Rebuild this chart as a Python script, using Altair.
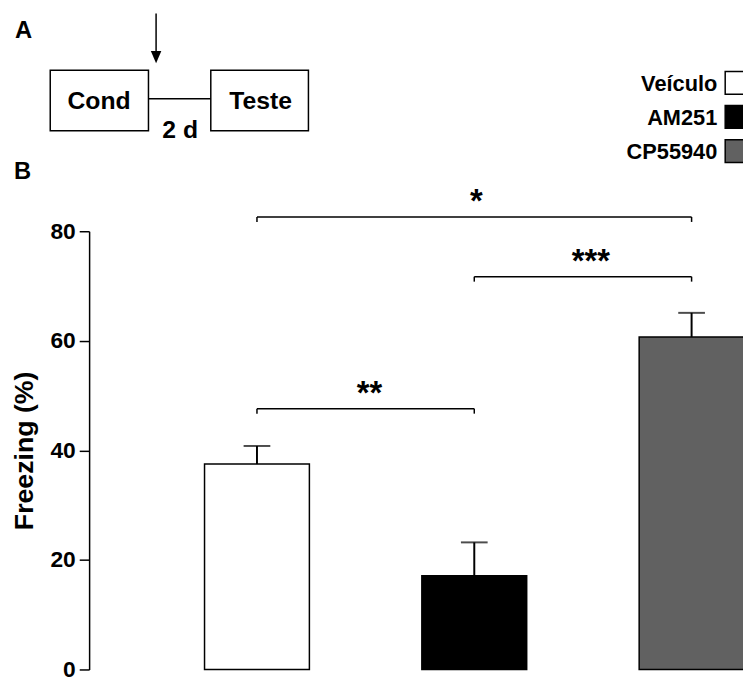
import altair as alt
import pandas as pd

FONT = "Liberation Sans"

# ---- data ----
groups = ["Veículo", "AM251", "CP55940"]
slots = [1, 2, 3]
means = [37.5, 17.1, 60.7]
sems = [3.3, 6.1, 4.4]
fills = ["#ffffff", "#000000", "#616161"]

tick_values = [0, 20, 40, 60, 80]

bracket_from = [1, 2, 1]
bracket_to = [3, 3, 2]
bracket_level = [82.6, 71.7, 47.6]
bracket_label = ["*", "***", "**"]
bracket_drop = 0.9

bars = pd.DataFrame({"group": groups, "slot": slots, "mean": means, "sem": sems})
bars["upper"] = bars["mean"] + bars["sem"]

br = pd.DataFrame({"a": bracket_from, "b": bracket_to, "level": bracket_level, "label": bracket_label})
br["low"] = br["level"] - bracket_drop
br["mid"] = (br["a"] + br["b"]) / 2

xs = alt.Scale(domain=[0.2504, 3.2138], nice=False, zero=False)
ys = alt.Scale(domain=[0, 80], nice=False)
fill_scale = alt.Scale(domain=groups, range=fills)

X = lambda f: alt.X(f, type="quantitative", scale=xs, axis=None)

yaxis = alt.Axis(
    values=tick_values, format="d", grid=False,
    domainColor="black", domainWidth=1.5,
    tickColor="black", tickWidth=1.5, tickSize=10,
    labelFont=FONT, labelFontSize=23, labelFontWeight="bold", labelColor="black",
    labelPadding=4,
    title="Freezing (%)", titleFont=FONT, titleFontSize=27, titleFontWeight="bold",
    titleColor="black", titleX=-65, titleY=221.5, titleAngle=270,
    titleAlign="center", titleBaseline="middle",
)

base = alt.Chart(bars)

bar_layer = base.mark_bar(size=106, stroke="black", strokeWidth=1.5, orient="vertical").encode(
    x=X("slot"),
    y=alt.Y("mean:Q", scale=ys, axis=yaxis, stack=None),
    fill=alt.Fill("group:N", scale=fill_scale, legend=None),
)

stem = base.mark_rule(color="black", strokeWidth=2).encode(
    x=X("slot"), y=alt.Y("mean:Q", scale=ys), y2="upper:Q"
)
cap = base.mark_tick(color="black", orient="horizontal", size=27, thickness=2).encode(
    x=X("slot"), y=alt.Y("upper:Q", scale=ys)
)

bbase = alt.Chart(br)
hline = bbase.mark_rule(color="black", strokeWidth=1.5).encode(
    x=X("a"), x2="b:Q", y=alt.Y("level:Q", scale=ys)
)
lleg = bbase.mark_rule(color="black", strokeWidth=1.5).encode(
    x=X("a"), y=alt.Y("level:Q", scale=ys), y2="low:Q"
)
rleg = bbase.mark_rule(color="black", strokeWidth=1.5).encode(
    x=X("b"), y=alt.Y("level:Q", scale=ys), y2="low:Q"
)

star_layers = []
for lab, dx in zip(bracket_label, [2, 8, 4]):
    star_layers.append(
        bbase.transform_filter(alt.datum.label == lab).mark_text(
            font=FONT, fontSize=33, fontWeight="bold", color="black",
            baseline="alphabetic", align="center", dy=-5, dx=dx).encode(
            x=X("mid"), y=alt.Y("level:Q", scale=ys), text="label:N")
    )

# ---- legend (drawn by hand: labels left of the swatches) ----
legend_layers = []
for i, g in enumerate(groups):
    ly = -150 + 34.5 * i
    legend_layers.append(
        alt.Chart(pd.DataFrame({"group": [g]})).mark_square(
            size=529, stroke="black", strokeWidth=1.5, opacity=1, fillOpacity=1).encode(
            x=alt.value(654.5), y=alt.value(ly),
            fill=alt.Fill("group:N", scale=fill_scale, legend=None))
    )
    legend_layers.append(
        alt.Chart(pd.DataFrame({"group": [g]})).mark_text(
            font=FONT, fontSize=22, fontWeight="bold", color="black",
            align="right", baseline="middle").encode(
            x=alt.value(635), y=alt.value(ly + 1), text="group:N")
    )

# ---- panel A schematic (layout, pixel positions relative to plot origin) ----
one = pd.DataFrame({"k": [0]})
sch = alt.Chart(one)

def txt(s, x, y, size, align="center"):
    return sch.mark_text(text=s, font=FONT, fontSize=size, fontWeight="bold", color="black",
                         align=align, baseline="alphabetic").encode(
        x=alt.value(x), y=alt.value(y))

def box(x1, x2, y1, y2):
    return sch.mark_rect(fill="white", fillOpacity=0, stroke="black", strokeWidth=1.5).encode(
        x=alt.value(x1), x2=alt.value(x2), y=alt.value(y1), y2=alt.value(y2))

def seg(x1, x2, y1, y2):
    return sch.mark_rule(color="black", strokeWidth=1.5).encode(
        x=alt.value(x1), x2=alt.value(x2), y=alt.value(y1), y2=alt.value(y2))

arrow_head = sch.mark_point(shape="M-0.866,-1L0.866,-1L0,1Z", size=150, filled=True,
                            color="black", opacity=1).encode(
    x=alt.value(67.7), y=alt.value(-176))

schematic = [
    txt("A", -75, -195, 24, "left"),
    txt("B", -76, -52.7, 24, "left"),
    seg(67.7, 67.7, -220, -178),
    arrow_head,
    box(-39.3, 60, -162.7, -101.7),
    box(123, 221.7, -162.7, -101.7),
    seg(60, 123, -134, -134),
    txt("Cond", 10, -123.3, 25),
    txt("Teste", 173.3, -123.3, 25),
    txt("2 d", 92, -94, 25),
]

chart = alt.layer(bar_layer, stem, cap, hline, lleg, rleg, *star_layers,
                  *legend_layers, *schematic).properties(
    width=661, height=443,
    autosize=alt.AutoSizeParams(type="none"),
    padding={"left": 82, "top": 222, "right": 0, "bottom": 9},
).configure(background="white").configure_view(strokeWidth=0)

chart.save("out.html", embed_options={"renderer": "svg", "actions": False})
